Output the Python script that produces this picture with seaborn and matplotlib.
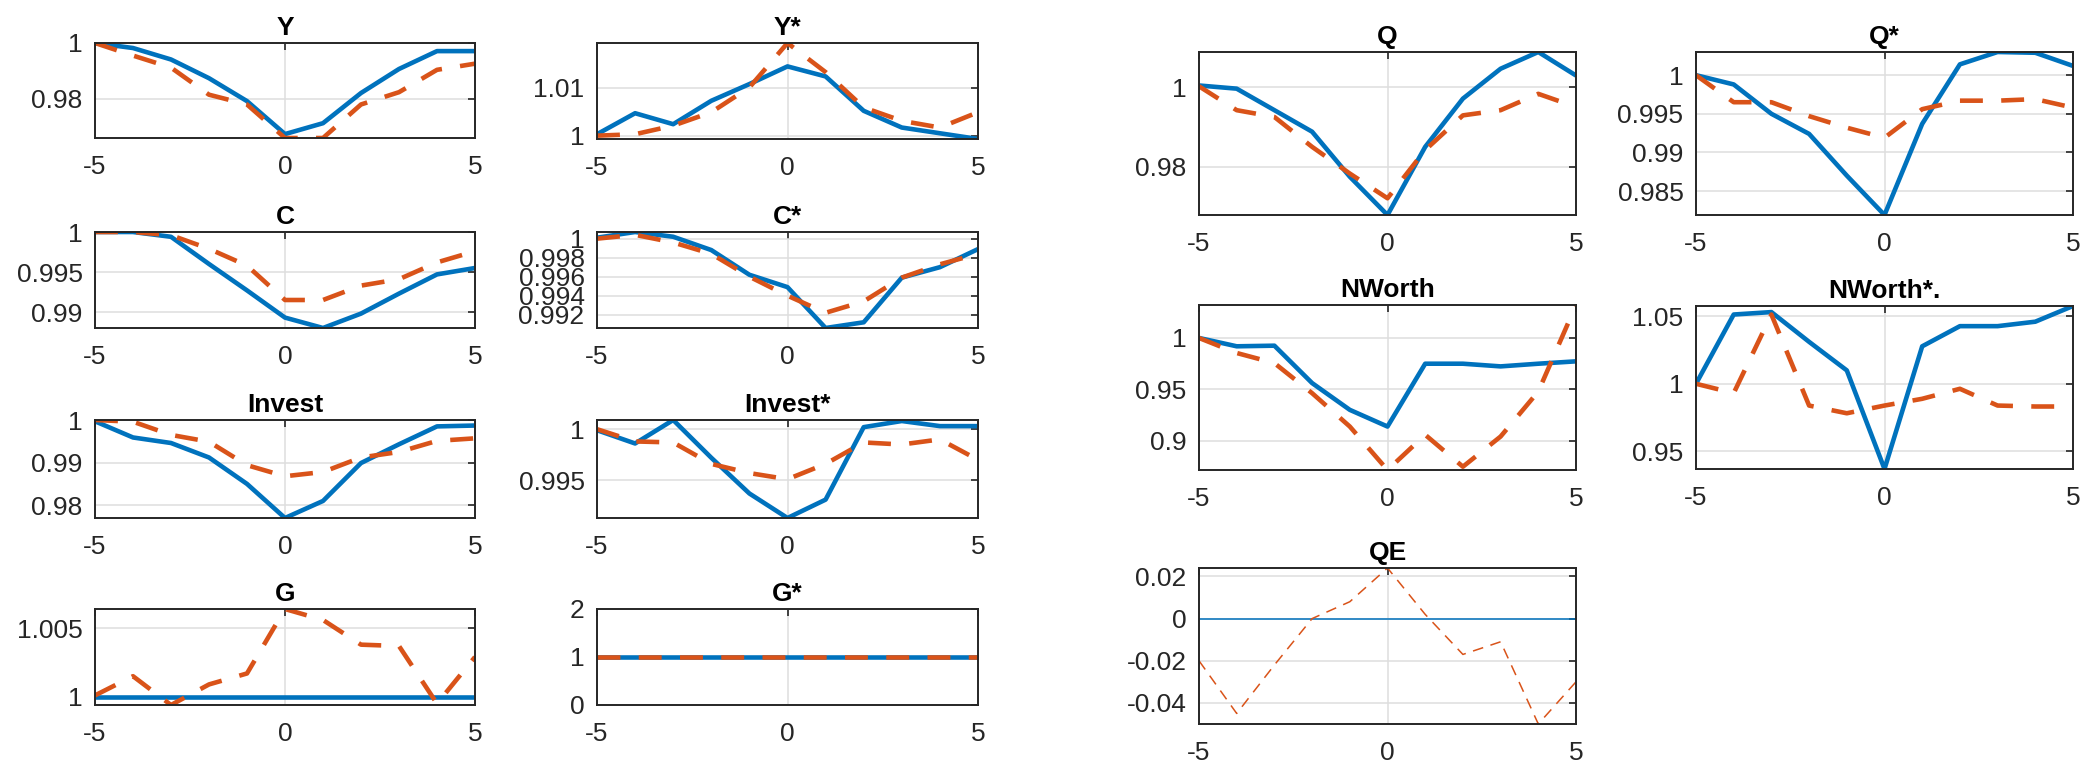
import numpy as np
import pandas as pd
import matplotlib
matplotlib.use("Agg")
import matplotlib.pyplot as plt
import seaborn as sns

# ---------------- data ----------------
t = [-5, -4, -3, -2, -1, 0, 1, 2, 3, 4, 5]

Y_a = [1.0, 0.9982, 0.9941, 0.9874, 0.9792, 0.9674, 0.9713, 0.9821, 0.9907, 0.9971, 0.9971]
Y_b = [1.0, 0.9955, 0.9912, 0.9815, 0.9780, 0.9660, 0.9660, 0.9780, 0.9824, 0.9904, 0.9926]

Ys_a = [1.0003, 1.0047, 1.0024, 1.0073, 1.0108, 1.0145, 1.0124, 1.0052, 1.0017, 1.0005, 0.9993]
Ys_b = [1.0, 1.0003, 1.0021, 1.0049, 1.0101, 1.0194, 1.0133, 1.0059, 1.0031, 1.0017, 1.0049]

C_a = [1.0, 1.0, 0.9994, 0.9960, 0.9927, 0.9893, 0.9880, 0.9898, 0.9923, 0.9947, 0.9955]
C_b = [1.0, 1.0, 0.9996, 0.9979, 0.9958, 0.9915, 0.9915, 0.9933, 0.9941, 0.9962, 0.9976]

Cs_a = [1.0001, 1.0007, 1.0002, 0.9988, 0.9962, 0.9949, 0.9906, 0.9912, 0.9959, 0.9970, 0.9989]
Cs_b = [1.0, 1.0004, 0.9996, 0.9984, 0.9960, 0.9940, 0.9922, 0.9934, 0.9959, 0.9973, 0.9984]

I_a = [0.9997, 0.9959, 0.9946, 0.9912, 0.9850, 0.9770, 0.9810, 0.9899, 0.9943, 0.9985, 0.9987]
I_b = [1.0, 0.9996, 0.9965, 0.9949, 0.9894, 0.9868, 0.9878, 0.9912, 0.9925, 0.9951, 0.9957]

Is_a = [0.9999, 0.9986, 1.0009, 0.9972, 0.9937, 0.9913, 0.9931, 1.0002, 1.0008, 1.0003, 1.0003]
Is_b = [1.0, 0.9988, 0.9987, 0.9966, 0.9957, 0.9951, 0.9966, 0.9987, 0.9985, 0.9990, 0.9970]

G_a = [1.0, 1.0, 1.0, 1.0, 1.0, 1.0, 1.0, 1.0, 1.0, 1.0, 1.0]
G_b = [1.0001, 1.0015, 0.9994, 1.0009, 1.0017, 1.0064, 1.0056, 1.0038, 1.0037, 0.9995, 1.0029]

Gs_a = [1.0, 1.0, 1.0, 1.0, 1.0, 1.0, 1.0, 1.0, 1.0, 1.0, 1.0]
Gs_b = [1.0, 1.0, 1.0, 1.0, 1.0, 1.0, 1.0, 1.0, 1.0, 1.0, 1.0]

Q_a = [1.0004, 0.9996, 0.9942, 0.9888, 0.9775, 0.9679, 0.9850, 0.9971, 1.0046, 1.0088, 1.0029]
Q_b = [1.0002, 0.9942, 0.9925, 0.9850, 0.9783, 0.9721, 0.9842, 0.9929, 0.9942, 0.9983, 0.9950]

Qs_a = [1.0, 0.9988, 0.9950, 0.9924, 0.9870, 0.9819, 0.9937, 1.0014, 1.0030, 1.0029, 1.0012]
Qs_b = [1.0, 0.9965, 0.9965, 0.9947, 0.9932, 0.9919, 0.9956, 0.9967, 0.9967, 0.9969, 0.9958]

N_a = [1.0, 0.9919, 0.9925, 0.9562, 0.9302, 0.9140, 0.9750, 0.9750, 0.9724, 0.9750, 0.9773]
N_b = [1.0, 0.9854, 0.9756, 0.9464, 0.9140, 0.8718, 0.9060, 0.8750, 0.9043, 0.9480, 1.0320]

Ns_a = [1.0, 1.0512, 1.0530, 1.0310, 1.0099, 0.9370, 1.0277, 1.0426, 1.0426, 1.0459, 1.0575]
Ns_b = [1.0, 0.9931, 1.0512, 0.9839, 0.9782, 0.9839, 0.9889, 0.9963, 0.9839, 0.9832, 0.9832]

QE_a = [0, 0, 0, 0, 0, 0, 0, 0, 0, 0, 0]
QE_b = [-0.020, -0.045, -0.022, 0.0, 0.008, 0.024, 0.002, -0.017, -0.011, -0.050, -0.030]

titles = ["Y", "Y*", "C", "C*", "Invest", "Invest*", "G", "G*",
          "Q", "Q*", "NWorth", "NWorth*.", "QE"]
blue_series = [Y_a, Ys_a, C_a, Cs_a, I_a, Is_a, G_a, Gs_a, Q_a, Qs_a, N_a, Ns_a, QE_a]
orange_series = [Y_b, Ys_b, C_b, Cs_b, I_b, Is_b, G_b, Gs_b, Q_b, Qs_b, N_b, Ns_b, QE_b]
yticks_list = [
    [0.98, 1.0], [1.0, 1.01], [0.99, 0.995, 1.0],
    [0.992, 0.994, 0.996, 0.998, 1.0], [0.98, 0.99, 1.0], [0.995, 1.0],
    [1.0, 1.005], [0, 1, 2], [0.98, 1.0], [0.985, 0.99, 0.995, 1.0],
    [0.9, 0.95, 1.0], [0.95, 1.0, 1.05], [-0.04, -0.02, 0, 0.02],
]
xticks = [-5, 0, 5]

# ---------------- layout (pixel boxes: left, right, top, bottom) ----------------
W, H = 2090, 767
boxes = [
    (95, 475, 43, 138), (597, 978, 43, 139),
    (95, 475, 232, 328), (597, 978, 232, 328),
    (95, 475, 420, 518), (597, 978, 420, 518),
    (95, 475, 609, 705), (597, 978, 609, 705),
    (1199, 1576, 52, 215), (1696, 2073, 52, 215),
    (1199, 1576, 305, 470), (1696, 2073, 306, 469),
    (1199, 1576, 568, 724),
]

sns.set_theme(style="white")
plt.rcParams['font.family'] = ['Liberation Sans', 'DejaVu Sans']

BLUE = "#0072BD"
ORANGE = "#D95319"
TXT = "#262626"

fig = plt.figure(figsize=(W / 100, H / 100), dpi=100)

for i, (title, ya, yb, yt, (l, r, tp, bt)) in enumerate(
        zip(titles, blue_series, orange_series, yticks_list, boxes)):
    ax = fig.add_axes([l / W, 1 - bt / H, (r - l) / W, (bt - tp) / H])
    thin = (title == "QE")
    lw = 1.1 if thin else 3.3
    dash = (0, (7, 5)) if thin else (0, (5, 4))
    df = pd.DataFrame({"t": t, "a": ya, "b": yb})
    sns.lineplot(data=df, x="t", y="a", ax=ax, color=BLUE, linewidth=lw,
                 sort=False, errorbar=None, solid_capstyle="butt")
    sns.lineplot(data=df, x="t", y="b", ax=ax, color=ORANGE, linewidth=lw,
                 linestyle=dash, sort=False, errorbar=None, dash_capstyle="butt")
    ax.set_xlim(min(t), max(t))
    lo = min(min(ya), min(yb))
    hi = max(max(ya), max(yb))
    if hi - lo < 1e-9:
        lo, hi = yt[0], yt[-1]
    ax.set_ylim(lo, hi)
    ax.set_xticks(xticks)
    ax.set_yticks(yt)
    ax.set_xticklabels([f"{v:g}" for v in xticks])
    ax.set_yticklabels([f"{v:g}" for v in yt])
    ax.set_xlabel("")
    ax.set_ylabel("")
    ax.grid(True, color="#dedede", linewidth=1.1)
    ax.set_axisbelow(True)
    for s in ax.spines.values():
        s.set_color(TXT)
        s.set_linewidth(1.4)
    ax.tick_params(axis="both", direction="in", top=True, right=True,
                   length=5, width=1.2, color=TXT, labelcolor=TXT,
                   labelsize=19)
    ax.tick_params(axis="x", pad=12)
    ax.tick_params(axis="y", pad=9)
    ax.set_title(title, fontsize=19, fontweight="bold", color="black", pad=6)

fig.savefig("out.png", dpi=100)
